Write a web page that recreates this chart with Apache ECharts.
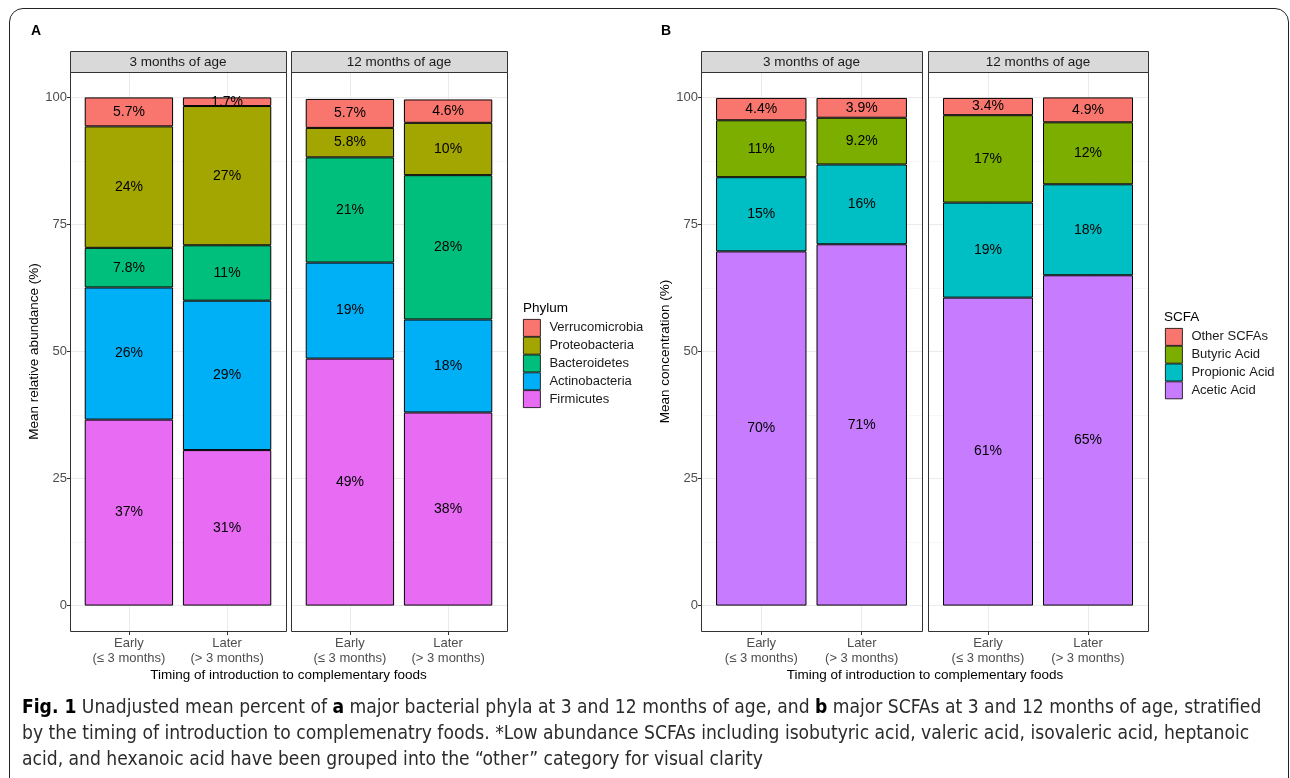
<!DOCTYPE html>
<html>
<head>
<meta charset="utf-8">
<title>Fig. 1</title>
<script src="https://cdn.jsdelivr.net/npm/echarts@6/dist/echarts.min.js"></script>
<style>
  html, body { margin: 0; padding: 0; background: #fff; }
  #wrap { position: relative; width: 1290px; height: 778px; overflow: hidden; }
  #frame {
    position: absolute; left: 9px; top: 8px; width: 1280px; height: 820px;
    border: 1.5px solid #222; border-radius: 14px 14px 0 0; box-sizing: border-box;
  }
  #chart { position: absolute; left: 0; top: 0; width: 1290px; height: 778px; }
  #caption {
    position: absolute; left: 22px; top: 694px;
    font-family: 'Liberation Sans Narrow', 'DejaVu Sans Condensed', sans-serif;
    font-size: 19.1px; line-height: 26px; color: #2b2b2b; white-space: nowrap;
  }
  #caption b { color: #000; }
</style>
</head>
<body>
<div id="wrap">
  <div id="frame"></div>
  <div id="chart"></div>
  <div id="caption"><b>Fig. 1</b> Unadjusted mean percent of <b>a</b> major bacterial phyla at 3 and 12 months of age, and <b>b</b> major SCFAs at 3 and 12 months of age, stratified<br>by the timing of introduction to complemenatry foods. *Low abundance SCFAs including isobutyric acid, valeric acid, isovaleric acid, heptanoic<br>acid, and hexanoic acid have been grouped into the “other” category for visual clarity</div>
</div>

<script>
  // 数据 (从图上读出来的)
  const xCats = ['Early\n(\u2264 3 months)', 'Later\n(> 3 months)']
  const facets = ['3 months of age', '12 months of age']
  const yTicks = [0, 25, 50, 75, 100]
  const yMinorTicks = [12.5, 37.5, 62.5, 87.5]

  // A: phyla, bottom -> top, each row [Early, Later]
  const phyla = ['Firmicutes', 'Actinobacteria', 'Bacteroidetes', 'Proteobacteria', 'Verrucomicrobia']
  const phylaColors = ['#E76BF3', '#00B0F6', '#00BF7D', '#A3A500', '#F8766D']
  const phyla3mo = [[36.6, 30.6], [26.0, 29.4], [7.8, 10.9], [23.9, 27.4], [5.7, 1.7]]
  const phyla12mo = [[48.6, 38.0], [18.9, 18.3], [20.7, 28.4], [5.8, 10.3], [5.7, 4.6]]

  // B: SCFAs, bottom -> top
  const scfa = ['Acetic Acid', 'Propionic Acid', 'Butyric Acid', 'Other SCFAs']
  const scfaColors = ['#C77CFF', '#00BFC4', '#7CAE00', '#F8766D']
  const scfa3mo = [[69.7, 71.1], [14.6, 15.7], [11.2, 9.2], [4.4, 3.9]]
  const scfa12mo = [[60.6, 65.0], [18.7, 17.9], [17.2, 12.2], [3.4, 4.9]]

  const FONT = "'Liberation Sans', Arial, Helvetica, sans-serif"

  // panel boxes
  const panels = [
    { left: 70, top: 72, width: 216, height: 559 },
    { left: 291, top: 72, width: 216, height: 559 },
    { left: 701, top: 72, width: 221, height: 559 },
    { left: 928, top: 72, width: 220, height: 559 }
  ]
  // bars sit in an inner grid so the category centres land where ggplot puts them (0.6 expansion)
  const barGrids = panels.map(p => ({
    left: p.left + p.width / 22,
    top: p.top,
    width: p.width / 1.1,
    height: p.height
  }))

  function makeSeries(names, colors, values, idx) {
    return names.map((n, gi) => ({
      name: n,
      type: 'bar',
      xAxisIndex: 4 + idx,
      yAxisIndex: 8 + idx,
      stack: 'facet' + idx,
      barCategoryGap: '10%',
      data: values[gi],
      itemStyle: { color: colors[gi], borderColor: '#000', borderWidth: 1 },
      label: {
        show: true,
        position: 'inside',
        color: '#000',
        fontSize: 14,
        fontFamily: FONT,
        formatter: p => Number(p.value.toPrecision(2)) + '%'
      },
      emphasis: { disabled: true }
    }))
  }

  // background axes (ticks, labels, grid lines) over the full panel
  const xBg = panels.map((p, i) => ({
    type: 'value',
    gridIndex: i,
    min: 0.4,
    max: 2.6,
    axisLine: { show: false, onZero: false },
    axisTick: { show: true, customValues: [1, 2], length: 4, lineStyle: { color: '#333' } },
    axisLabel: {
      customValues: [1, 2],
      formatter: v => xCats[v - 1],
      color: '#4D4D4D',
      fontSize: 13,
      lineHeight: 15,
      margin: 5,
      fontFamily: FONT
    },
    splitLine: { show: true, lineStyle: { color: '#EBEBEB', width: 1 } }
  }))
  const xBar = barGrids.map((g, i) => ({
    type: 'category',
    gridIndex: 4 + i,
    data: xCats,
    show: false
  }))

  const yMain = panels.map((p, i) => {
    const first = (i === 0 || i === 2)
    return {
      type: 'value',
      gridIndex: i,
      min: -5,
      max: 105,
      axisLine: { show: false, onZero: false },
      axisTick: { show: first, customValues: yTicks, length: 3, lineStyle: { color: '#333' } },
      axisLabel: { show: first, customValues: yTicks, color: '#4D4D4D', fontSize: 13, margin: 3, fontFamily: FONT },
      splitLine: { show: true, lineStyle: { color: '#EBEBEB', width: 1 } },
      name: i === 0 ? 'Mean relative abundance (%)' : (i === 2 ? 'Mean concentration (%)' : ''),
      nameLocation: 'middle',
      nameGap: i === 0 ? 24 : 21,
      nameTextStyle: { fontSize: 13.5, color: '#000', fontFamily: FONT }
    }
  })
  // 次网格线
  const yMinor = panels.map((p, i) => ({
    type: 'value',
    gridIndex: i,
    position: 'right',
    min: -5,
    max: 105,
    axisLine: { show: false, onZero: false },
    axisTick: { show: false, customValues: yMinorTicks },
    axisLabel: { show: false, customValues: yMinorTicks },
    splitLine: { show: true, lineStyle: { color: '#F2F2F2', width: 0.6 } }
  }))
  const yBar = barGrids.map((g, i) => ({
    type: 'value',
    gridIndex: 4 + i,
    min: -5,
    max: 105,
    show: false,
    splitLine: { show: false }
  }))

  const graphics = []
  panels.forEach((p, i) => {
    // strip
    graphics.push({
      type: 'rect', z: 10,
      shape: { x: p.left + 0.5, y: 51.5, width: p.width, height: 21 },
      style: { fill: '#D9D9D9', stroke: '#333', lineWidth: 1 }
    })
    graphics.push({
      type: 'text', z: 11,
      x: p.left + p.width / 2, y: 62,
      style: { text: facets[i % 2], fill: '#1A1A1A', font: '13.5px ' + FONT, align: 'center', verticalAlign: 'middle' }
    })
    // panel border
    graphics.push({
      type: 'rect', z: 10,
      shape: { x: p.left + 0.5, y: p.top + 0.5, width: p.width, height: p.height },
      style: { fill: null, stroke: '#333', lineWidth: 1 }
    })
  })
  const texts = [
    { t: 'A', x: 31, y: 31, f: 'bold 14px ' + FONT, a: 'left' },
    { t: 'B', x: 661, y: 31, f: 'bold 14px ' + FONT, a: 'left' },
    { t: 'Timing of introduction to complementary foods', x: 288.5, y: 675, f: '13.5px ' + FONT, a: 'center' },
    { t: 'Timing of introduction to complementary foods', x: 925, y: 675, f: '13.5px ' + FONT, a: 'center' },
    { t: 'Phylum', x: 523, y: 308, f: '13.5px ' + FONT, a: 'left' },
    { t: 'SCFA', x: 1164, y: 317, f: '13.5px ' + FONT, a: 'left' }
  ]
  texts.forEach(o => graphics.push({
    type: 'text', z: 11, x: o.x, y: o.y,
    style: { text: o.t, fill: '#000', font: o.f, align: o.a, verticalAlign: 'middle' }
  }))

  const legendBase = {
    orient: 'vertical',
    padding: 0,
    itemWidth: 17,
    itemHeight: 17,
    itemGap: 0,
    icon: 'rect',
    selectedMode: false,
    itemStyle: { borderWidth: 0.8 },
    textStyle: { fontSize: 13, lineHeight: 15, color: '#1A1A1A', fontFamily: FONT, padding: [0, 0, 0, 4] }
  }

  const myChart = echarts.init(document.getElementById('chart'))
  const option = {
    animation: false,
    textStyle: { fontFamily: FONT },
    grid: panels.concat(barGrids).map(g => Object.assign({ containLabel: false }, g)),
    xAxis: xBg.concat(xBar),
    yAxis: yMain.concat(yMinor, yBar),
    legend: [
      Object.assign({ data: phyla.slice().reverse(), left: 523, top: 319 }, legendBase),
      Object.assign({ data: scfa.slice().reverse(), left: 1165, top: 328 }, legendBase)
    ],
    graphic: graphics,
    series: [].concat(
      makeSeries(phyla, phylaColors, phyla3mo, 0),
      makeSeries(phyla, phylaColors, phyla12mo, 1),
      makeSeries(scfa, scfaColors, scfa3mo, 2),
      makeSeries(scfa, scfaColors, scfa12mo, 3)
    )
  }
  myChart.setOption(option)
</script>
</body>
</html>
